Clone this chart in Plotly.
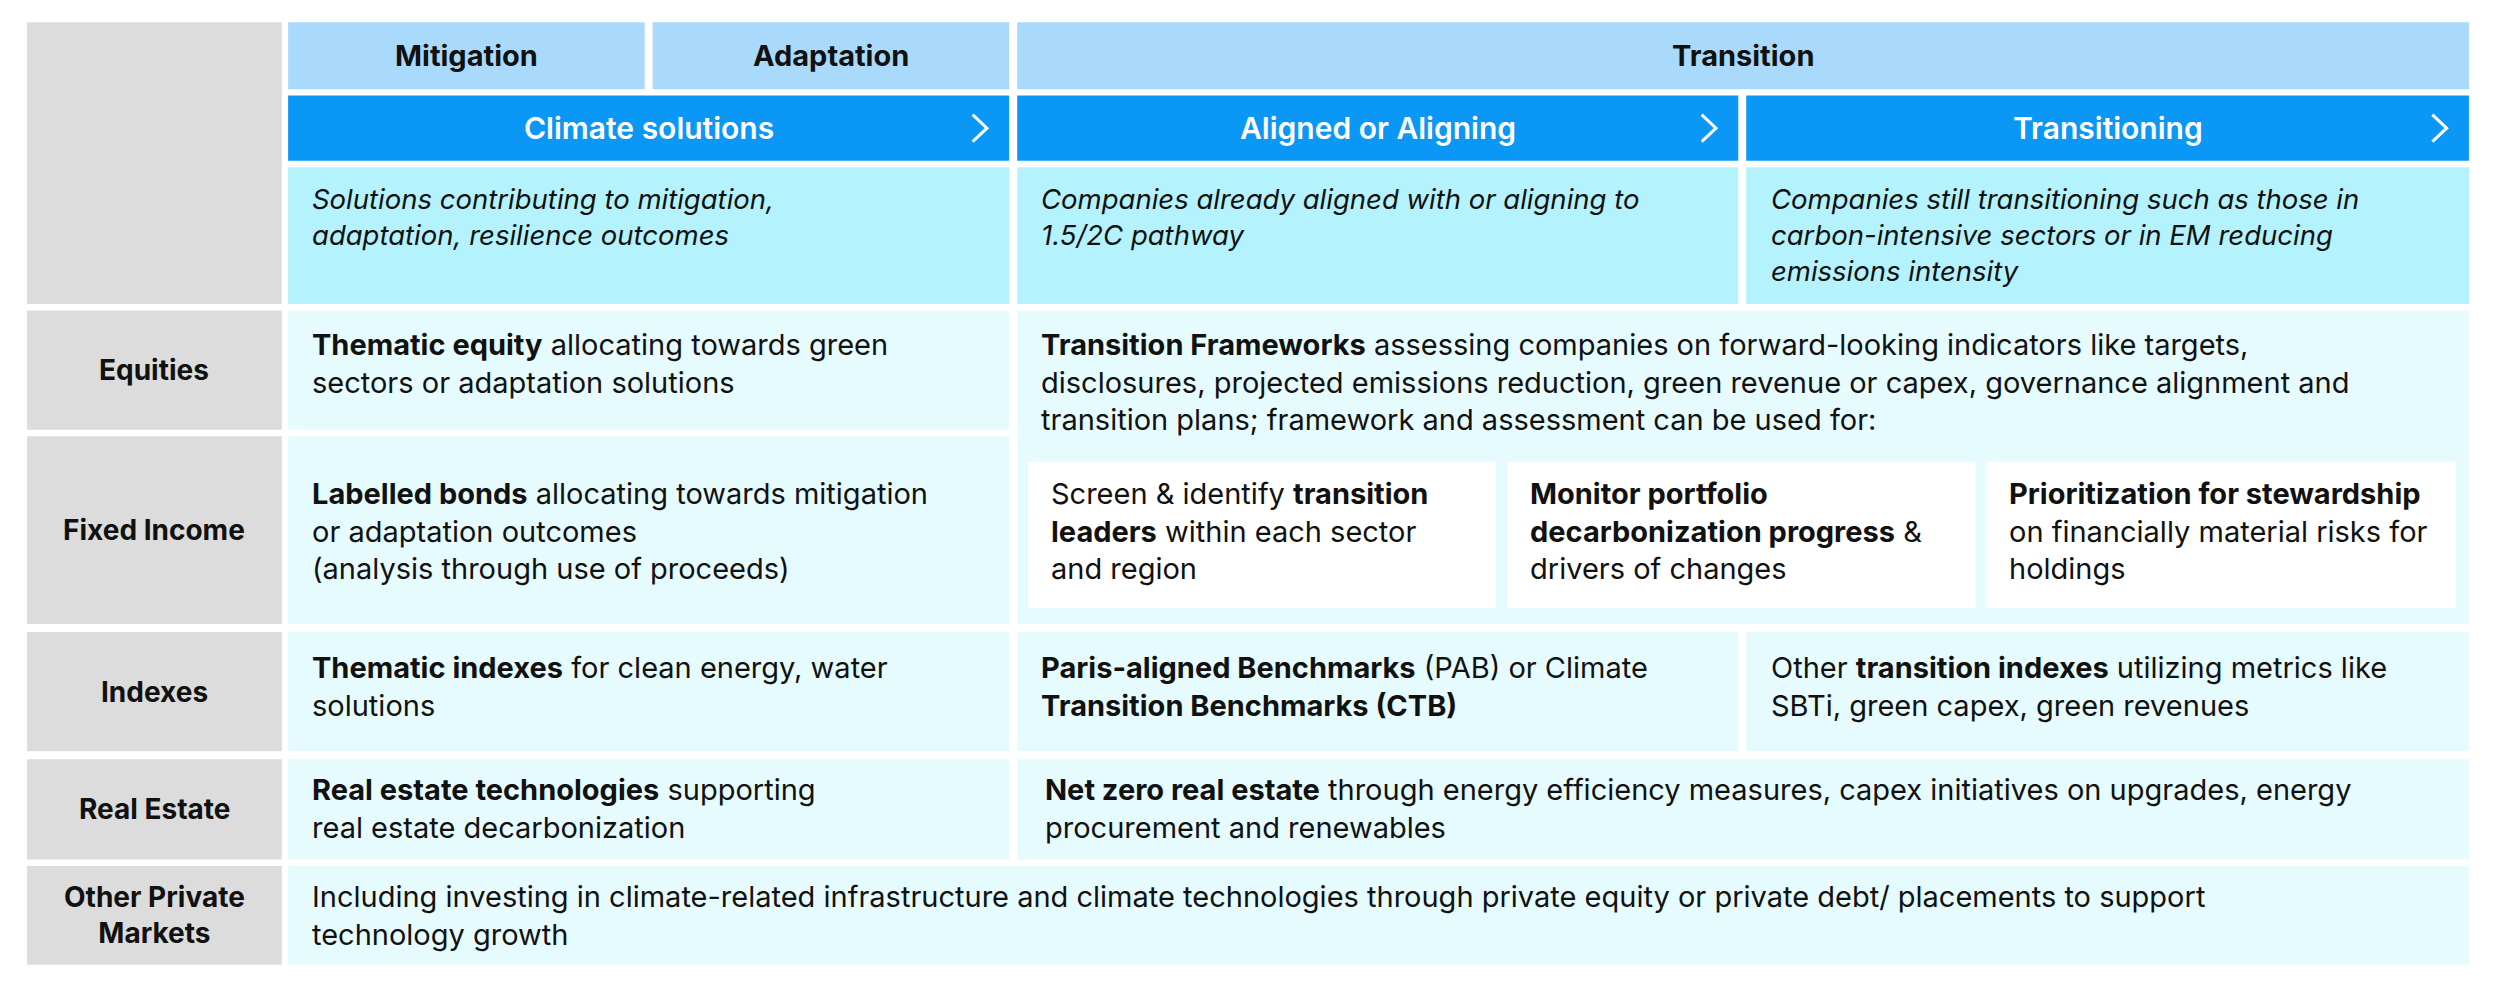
import plotly.graph_objects as go

S = 2496 / 1568.0  # reference pixel scale

# ---- content ----
top_headers = ["Mitigation", "Adaptation", "Transition"]
mid_headers = ["Climate solutions", "Aligned or Aligning", "Transitioning"]
descriptions = [
    "Solutions contributing to mitigation,<br>adaptation, resilience outcomes",
    "Companies already aligned with or aligning to<br>1.5/2C pathway",
    "Companies still transitioning such as those in<br>carbon-intensive sectors or in EM reducing<br>emissions intensity",
]
row_labels = ["Equities", "Fixed Income", "Indexes", "Real Estate", "Other Private<br>Markets"]
cell_texts = [
    "<b>Thematic equity</b> allocating towards green<br>sectors or adaptation solutions",
    "<b>Transition Frameworks</b> assessing companies on forward-looking indicators like targets,<br>disclosures, projected emissions reduction, green revenue or capex, governance alignment and<br>transition plans; framework and assessment can be used for:",
    "<b>Labelled bonds</b> allocating towards mitigation<br>or adaptation outcomes<br>(analysis through use of proceeds)",
    "<b>Thematic indexes</b> for clean energy, water<br>solutions",
    "<b>Paris-aligned Benchmarks</b> (PAB) or Climate<br><b>Transition Benchmarks (CTB)</b>",
    "Other <b>transition indexes</b> utilizing metrics like<br>SBTi, green capex, green revenues",
    "<b>Real estate technologies</b> supporting<br>real estate decarbonization",
    "<b>Net zero real estate</b> through energy efficiency measures, capex initiatives on upgrades, energy<br>procurement and renewables",
    "Including investing in climate-related infrastructure and climate technologies through private equity or private debt/ placements to support<br>technology growth",
]
use_texts = [
    "Screen & identify <b>transition</b><br><b>leaders</b> within each sector<br>and region",
    "<b>Monitor portfolio</b><br><b>decarbonization progress</b> &<br>drivers of changes",
    "<b>Prioritization for stewardship</b><br>on financially material risks for<br>holdings",
]

GRAY = "#DCDCDC"; HDR = "#A9DAFB"; BLUE = "#0A97F6"; DESC = "#B4F3FD"; BODY = "#E6FBFE"
FONT = "Inter"
BODY_SIZE = 29

shapes = []
ann = []

def rect(x0, y0, x1, y1, color):
    shapes.append(dict(type="rect", x0=x0*S, x1=x1*S, y0=y0*S, y1=y1*S,
                       fillcolor=color, line=dict(width=0), layer="below"))

def text(x, y, t, size=BODY_SIZE, color="#111", xanchor="left", yanchor="top", align="left", weight=None):
    f = dict(family=FONT, size=size, color=color)
    if weight:
        f["weight"] = weight
    ann.append(dict(x=x*S, y=y*S, text=t, showarrow=False, xanchor=xanchor, yanchor=yanchor,
                    align=align, font=f))

# left gray column
rows = [(195, 270), (274, 392), (397, 472), (477, 540), (544, 606)]
rect(17, 14, 177, 191, GRAY)
for (y0, y1), lab in zip(rows, row_labels):
    rect(17, y0, 177, y1, GRAY)
    text(97, (y0+y1)/2, "<b>"+lab+"</b>", size=28, xanchor="center", yanchor="middle", align="center")

# top headers
for (x0, x1), t in zip([(181, 405), (410, 634), (639, 1551)], top_headers):
    rect(x0, 14, x1, 56, HDR)
    text((x0+x1)/2, 35, "<b>"+t+"</b>", size=29, xanchor="center", yanchor="middle")

# blue headers with chevrons
cols3 = [(181, 634), (639, 1092), (1097, 1551)]
for (x0, x1), t in zip(cols3, mid_headers):
    rect(x0, 60, x1, 101, BLUE)
    text((x0+x1)/2, 80.5, t, size=30, color="white", xanchor="center", yanchor="middle", weight=600)
    cx = x1 - 18
    shapes.append(dict(type="path", path=f"M {(cx-5)*S},{72*S} L {(cx+4)*S},{80.5*S} L {(cx-5)*S},{89*S}",
                       line=dict(color="white", width=3)))

# descriptions
for (x0, x1), t in zip(cols3, descriptions):
    rect(x0, 105, x1, 191, DESC)
    text(x0+14, 113, "<i>"+t+"</i>", size=27.5)

# body cells
rect(181, 195, 634, 270, BODY); text(195, 204, cell_texts[0])
rect(639, 195, 1551, 392, BODY); text(653, 204, cell_texts[1])
rect(181, 274, 634, 392, BODY); text(195, 298, cell_texts[2])
for (x0, x1), t in zip([(646, 940), (947, 1241), (1248, 1543)], use_texts):
    rect(x0, 290, x1, 382, "white")
    text(x0+13, 298, t)
rect(181, 397, 634, 472, BODY); text(195, 407, cell_texts[3])
rect(639, 397, 1092, 472, BODY); text(653, 407, cell_texts[4])
rect(1097, 397, 1551, 472, BODY); text(1111, 407, cell_texts[5])
rect(181, 477, 634, 540, BODY); text(195, 484, cell_texts[6])
rect(639, 477, 1551, 540, BODY); text(655, 484, cell_texts[7])
rect(181, 544, 1551, 606, BODY); text(195, 551, cell_texts[8])

fig = go.Figure()
fig.update_layout(
    width=2496, height=990, margin=dict(l=0, r=0, t=0, b=0),
    paper_bgcolor="white", plot_bgcolor="white",
    xaxis=dict(range=[8, 2504], visible=False, fixedrange=True),
    yaxis=dict(range=[998, 8], visible=False, fixedrange=True),
    shapes=shapes, annotations=ann, showlegend=False,
)
fig.write_html("out.html")
